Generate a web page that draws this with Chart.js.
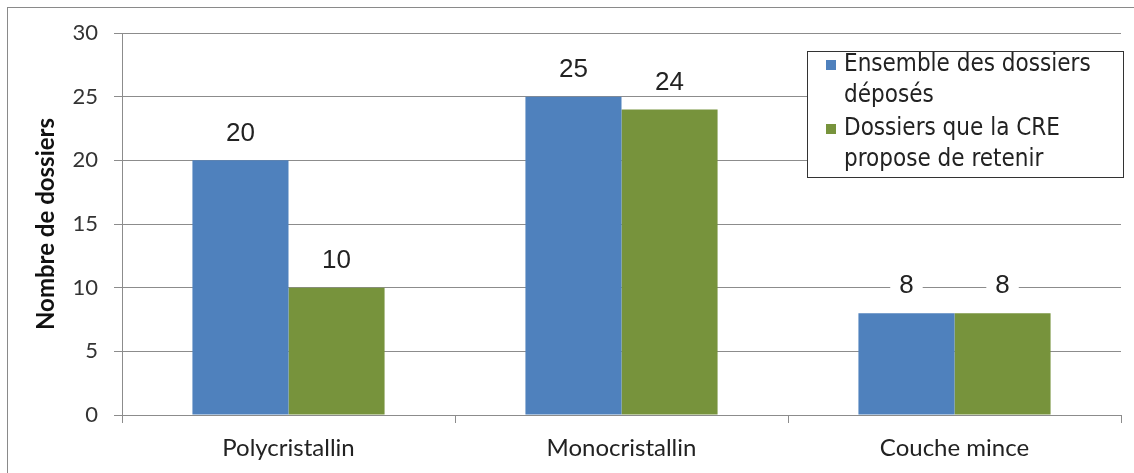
<!DOCTYPE html>
<html>
<head>
<meta charset="utf-8">
<script src="https://cdn.jsdelivr.net/npm/chart.js@4.4.1/dist/chart.umd.min.js"></script>
<style>
    html, body { margin: 0; padding: 0; background: #fff; }
    #wrap { width: 1134px; height: 473px; }
</style>
</head>
<body>
<div id="wrap"><canvas id="chart" width="1134" height="473"></canvas></div>
<script>
// Data
const categories = ['Polycristallin', 'Monocristallin', 'Couche mince'];
const deposes = [20, 25, 8];
const retenus = [10, 24, 8];
const seriesNames = [['Ensemble des dossiers', 'déposés'], ['Dossiers que la CRE', 'propose de retenir']];
const yTicks = [0, 5, 10, 15, 20, 25, 30];

const BLUE = '#4F81BD';
const GREEN = '#77933C';
const GRID = '#8c8c8c';
const AXIS_FONT = 'Lato, "Open Sans", sans-serif';

// Value labels above bars, on a white patch that cuts the gridlines
const valueLabels = {
    id: 'valueLabels',
    afterDatasetsDraw(chart) {
        const ctx = chart.ctx;
        ctx.save();
        ctx.font = '26px "Liberation Sans", Arial, sans-serif';
        ctx.textAlign = 'center';
        ctx.textBaseline = 'middle';
        chart.data.datasets.forEach((ds, di) => {
            chart.getDatasetMeta(di).data.forEach((bar, i) => {
                const txt = String(ds.data[i]);
                const w = ctx.measureText(txt).width + 18;
                const y = bar.y - 28;
                ctx.fillStyle = '#fff';
                ctx.fillRect(bar.x - w / 2, y - 14, w, 28);
                ctx.fillStyle = '#222';
                ctx.fillText(txt, bar.x, y + 1);
            });
        });
        ctx.restore();
    }
};

// Boxed legend drawn over the plot, plus the outer frame
const boxLegend = {
    id: 'boxLegend',
    afterDraw(chart) {
        const ctx = chart.ctx;
        ctx.save();
        // outer frame (right and bottom fall outside the picture)
        ctx.strokeStyle = '#8a8a8a';
        ctx.lineWidth = 1;
        ctx.strokeRect(7.5, 7.5, 1200, 600);

        const bx = 807, by = 51, bw = 316, bh = 126;
        ctx.fillStyle = '#fff';
        ctx.fillRect(bx, by, bw, bh);
        ctx.strokeStyle = '#333';
        ctx.strokeRect(bx + 0.5, by + 0.5, bw, bh);

        ctx.font = '24px "DejaVu Sans Condensed", "DejaVu Sans", sans-serif';
        ctx.textAlign = 'left';
        ctx.textBaseline = 'middle';
        const colors = [BLUE, GREEN];
        let y = 65;
        seriesNames.forEach((lines, si) => {
            ctx.fillStyle = colors[si];
            ctx.fillRect(826, y - 5, 10, 10);
            ctx.fillStyle = '#222';
            lines.forEach(line => {
                ctx.fillText(line, 844, y);
                y += 31;
            });
            y += 2;
        });
        ctx.restore();
    }
};

new Chart(document.getElementById('chart').getContext('2d'), {
    type: 'bar',
    data: {
        labels: categories,
        datasets: [
            { label: seriesNames[0].join(' '), data: deposes, backgroundColor: BLUE },
            { label: seriesNames[1].join(' '), data: retenus, backgroundColor: GREEN }
        ]
    },
    options: {
        responsive: false,
        animation: false,
        datasets: { bar: { categoryPercentage: 0.577, barPercentage: 1.0 } },
        layout: { padding: { left: 32, top: 33, right: 13, bottom: 0 } },
        plugins: {
            legend: { display: false },
            tooltip: { enabled: false }
        },
        scales: {
            x: {
                grid: { display: true, drawOnChartArea: false, tickLength: 8, color: GRID, offset: true },
                border: { color: GRID },
                ticks: {
                    color: '#222',
                    padding: 11,
                    font: { family: AXIS_FONT, size: 24 }
                },
                afterFit: s => { s.height = 58; }
            },
            y: {
                min: 0,
                max: 30,
                afterBuildTicks: s => { s.ticks = yTicks.map(v => ({ value: v })); },
                grid: { color: GRID, tickLength: 8 },
                border: { color: GRID },
                ticks: {
                    color: '#333',
                    padding: 16,
                    font: { family: AXIS_FONT, size: 22 }
                },
                title: {
                    display: true,
                    text: 'Nombre de dossiers',
                    color: '#111',
                    padding: 0,
                    font: { family: AXIS_FONT, size: 24, weight: 'bold' }
                },
                afterFit: s => { s.width = 90; }
            }
        }
    },
    plugins: [valueLabels, boxLegend]
});
</script>
</body>
</html>
